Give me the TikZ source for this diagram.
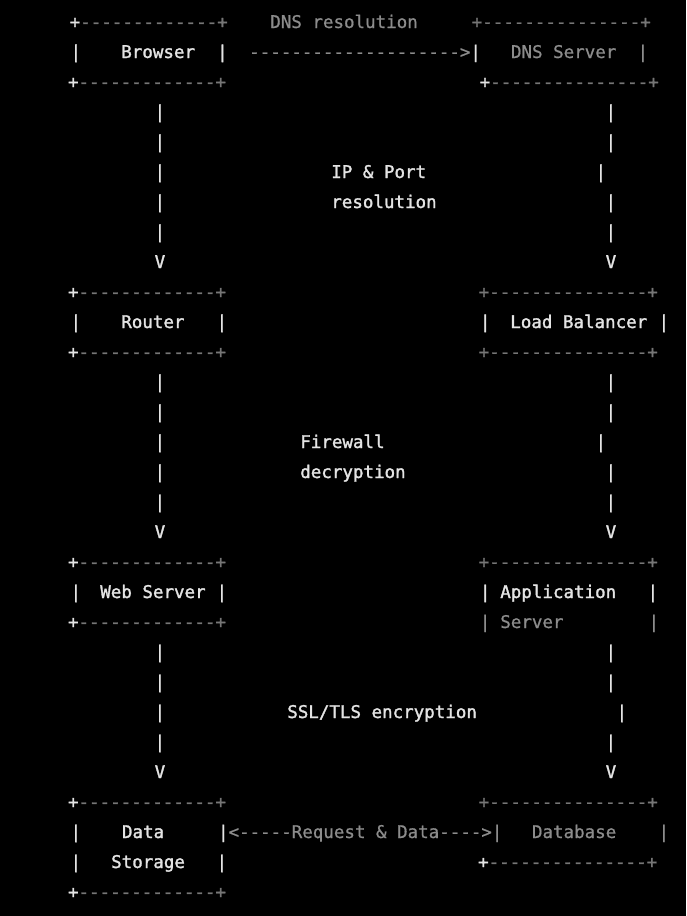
\documentclass[tikz,border=0pt]{standalone}
\usepackage{fontspec}
\newfontfamily\monofam[FakeBold=1.6]{DejaVu Sans Mono}
\newfontfamily\monodim[FakeBold=0.8]{DejaVu Sans Mono}
\definecolor{fg}{RGB}{228,228,228}
\definecolor{dim}{RGB}{140,140,140}
\definecolor{bord}{RGB}{118,118,118}
\newcommand\myLB{+\textcolor{bord}{-------------+}}
\newcommand\myRB{\textcolor{bord}{+---------------+}}
\newcommand\myRBb{+\textcolor{bord}{---------------+}}
\begin{document}
\begin{tikzpicture}[x=1pt,y=-1pt,
  txt/.style={anchor=base west,inner sep=0pt,outer sep=0pt,
    font=\monofam\fontsize{17.5}{20}\selectfont,text=fg},
  dimtxt/.style={txt,font=\monodim\fontsize{17.5}{20}\selectfont,text=dim}]
\fill[black] (0,0) rectangle (686,916);
\useasboundingbox (0,0) rectangle (686,916);

% ---------- row 0-2 : Browser / DNS Server
\node[txt,name=b0l] at (69.7,28) {\myLB};
\node[dimtxt,name=dnsres] at (270.3,28) {DNS resolution};
\node[dimtxt,name=b0r] at (471.7,28) {\myRB};
\node[txt,name=b1a] at (70.7,58) {|};
\node[txt,name=browser] at (121.3,58) {Browser};
\node[txt,name=b1b] at (217.2,58) {|};
\node[dimtxt,name=arr1] at (249.2,58) {-------------------->\textcolor{fg}{|}};
\node[dimtxt,name=dnsserver] at (511,58) {DNS Server};
\node[dimtxt,name=b1c] at (637.7,58) {|};
\node[txt,name=b2l] at (68,88) {\myLB};
\node[txt,name=b2r] at (479.7,88) {\myRBb};

% ---------- section 1
\foreach \k in {3,4,5,6,7}{\node[txt,name=s1l\k] at (154.7,{28+30*\k}) {|};}
\node[txt,name=s1lv] at (154.7,268) {V};
\foreach \k in {3,4,6,7}{\node[txt,name=s1r\k] at (605.7,{28+30*\k}) {|};}
\node[txt,name=s1r5] at (595.7,178) {|};
\node[txt,name=s1rv] at (605.7,268) {V};
\node[txt,name=ipport] at (331.3,178) {IP \& Port};
\node[txt,name=ipres] at (331.3,208) {resolution};

% ---------- rows 9-11 : Router / Load Balancer
\node[txt,name=b9l] at (68,298) {\myLB};
\node[dimtxt,name=b9r] at (478.7,298) {\myRB};
\node[txt,name=b10a] at (70.7,328) {|};
\node[txt,name=router] at (121.3,328) {Router};
\node[txt,name=b10b] at (216.7,328) {|};
\node[txt,name=b10c] at (479.9,328) {|};
\node[txt,name=lb] at (510.3,328) {Load Balancer};
\node[txt,name=b10d] at (658.7,328) {|};
\node[txt,name=b11l] at (68,358) {\myLB};
\node[dimtxt,name=b11r] at (478.7,358) {\myRB};

% ---------- section 2
\foreach \k in {12,13,14,15,16}{\node[txt,name=s2l\k] at (154.7,{28+30*\k}) {|};}
\node[txt,name=s2lv] at (154.7,538) {V};
\foreach \k in {12,13,15,16}{\node[txt,name=s2r\k] at (605.7,{28+30*\k}) {|};}
\node[txt,name=s2r14] at (595.7,448) {|};
\node[txt,name=s2rv] at (605.7,538) {V};
\node[txt,name=firewall] at (300.3,448) {Firewall};
\node[txt,name=decrypt] at (300.3,478) {decryption};

% ---------- rows 18-20 : Web Server / Application Server
\node[txt,name=b18l] at (68,568) {\myLB};
\node[dimtxt,name=b18r] at (478.7,568) {\myRB};
\node[txt,name=b19a] at (70.7,598) {|};
\node[txt,name=webserver] at (100.3,598) {Web Server};
\node[txt,name=b19b] at (216.7,598) {|};
\node[txt,name=b19c] at (479.9,598) {|};
\node[txt,name=app] at (500.3,598) {Application};
\node[txt,name=b19d] at (647.7,598) {|};
\node[txt,name=b20l] at (68,628) {\myLB};
\node[dimtxt,name=b20c] at (479.9,628) {|};
\node[dimtxt,name=appserver] at (500.3,628) {Server};
\node[dimtxt,name=b20d] at (648.7,628) {|};

% ---------- section 3
\foreach \k in {21,22,23,24}{\node[txt,name=s3l\k] at (154.7,{28+30*\k}) {|};}
\node[txt,name=s3lv] at (154.7,778) {V};
\foreach \k in {21,22,24}{\node[txt,name=s3r\k] at (605.7,{28+30*\k}) {|};}
\node[txt,name=s3r23] at (616.7,718) {|};
\node[txt,name=s3rv] at (605.7,778) {V};
\node[txt,name=ssl] at (287.3,718) {SSL/TLS encryption};

% ---------- rows 26-29 : Data Storage / Database
\node[txt,name=b26l] at (68,808) {\myLB};
\node[dimtxt,name=b26r] at (478.7,808) {\myRB};
\node[txt,name=b27a] at (70.7,838) {|};
\node[txt,name=data] at (122,838) {Data};
\node[dimtxt,name=arr2] at (218,838) {\textcolor{fg}{|}<-----Request \& Data---->|};
\node[dimtxt,name=database] at (532,838) {Database};
\node[dimtxt,name=b27d] at (658.7,838) {|};
\node[txt,name=b28a] at (70.7,868) {|};
\node[txt,name=storage] at (111.2,868) {Storage};
\node[txt,name=b28b] at (216.7,868) {|};
\node[txt,name=b28r] at (478.1,868) {\myRBb};
\node[txt,name=b29l] at (68,898) {\myLB};
\end{tikzpicture}
\end{document}
